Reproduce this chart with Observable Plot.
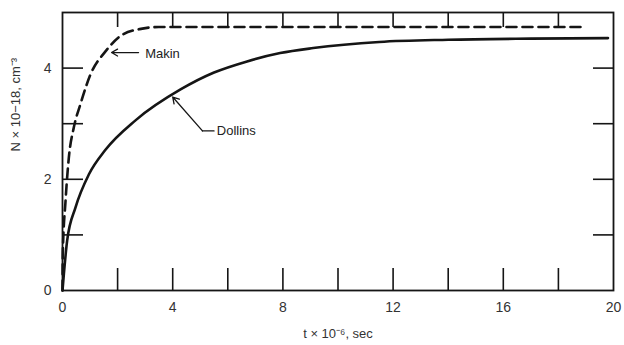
<!DOCTYPE html>
<html>
<head>
<meta charset="utf-8">
<script src="https://cdn.jsdelivr.net/npm/d3@7"></script>
<script src="https://cdn.jsdelivr.net/npm/@observablehq/plot@0.6"></script>
<style>
  html, body { margin: 0; padding: 0; background: #fff; }
  #chart svg { display: block; }
</style>
</head>
<body>
<div id="chart"></div>
<script>
// Carrier density N (×10^18 cm^-3) versus time t (×10^-6 s)
const dollinsT = [0, 0.05, 0.17, 0.47, 0.96, 1.56, 2.65, 4.3, 5.5, 6.7, 7.9, 9.1, 11.5, 14, 17, 19.8];
const dollinsN = [0, 0.30, 0.90, 1.49, 2.09, 2.53, 3.06, 3.62, 3.92, 4.12, 4.27, 4.36, 4.47, 4.51, 4.53, 4.54];

const makinT = [0, 0.01, 0.11, 0.23, 0.41, 0.65, 1.02, 1.56, 2.17, 2.9, 3.5, 5, 10, 15, 18.9];
const makinN = [0, 0.66, 1.61, 2.39, 2.93, 3.35, 3.89, 4.30, 4.60, 4.71, 4.74, 4.74, 4.74, 4.74, 4.74];

// Axis ticks and titles
const xLabelTicks = [0, 4, 8, 12, 16, 20];
const xMinorTicks = [2, 4, 6, 8, 10, 12, 14, 16, 18];
const yLabelTicks = [0, 2, 4];
const yMinorTicks = [1, 2, 3, 4];
const xTitle = "t × 10⁻⁶, sec";
const yTitle = "N × 10−18, cm⁻³";

// Curve labels with their leader arrows
const labelNames = ["Makin", "Dollins"];
const labelT = [3.0, 5.6];
const labelN = [4.25, 2.87];
const makinArrow = {t1: 2.76, n1: 4.28, t2: 1.78, n2: 4.28};
const dollinsLeaderT = [5.5, 5.08];
const dollinsLeaderN = [2.87, 2.87];
const dollinsArrow = {t1: 5.08, n1: 2.87, t2: 4.0, n2: 3.48};

const dollins = dollinsT.map((t, i) => ({t, n: dollinsN[i]}));
const makin = makinT.map((t, i) => ({t, n: makinN[i]}));
const labels = labelNames.map((name, i) => ({name, t: labelT[i], n: labelN[i]}));
const dollinsLeader = dollinsLeaderT.map((t, i) => ({t, n: dollinsLeaderN[i]}));

const ink = "#151515";
const font = "'Liberation Sans', Arial, sans-serif";

const chart = Plot.plot({
  width: 624,
  height: 345,
  marginLeft: 62,
  marginRight: 11,
  marginTop: 12,
  marginBottom: 55,
  style: {fontFamily: font, fontSize: "13px", color: ink, background: "#fff"},
  x: {domain: [0, 20]},
  y: {domain: [0, 5]},
  marks: [
    Plot.frame({stroke: ink, strokeWidth: 1.8}),
    // inward tick marks on all four sides
    Plot.axisX(xMinorTicks, {anchor: "bottom", tickSize: -22, tickFormat: () => "", strokeWidth: 1.6, stroke: ink, label: null}),
    Plot.axisX(xMinorTicks, {anchor: "top", tickSize: -14, tickFormat: () => "", strokeWidth: 1.6, stroke: ink, label: null}),
    Plot.axisY(yMinorTicks, {anchor: "left", tickSize: -21, tickFormat: () => "", strokeWidth: 1.6, stroke: ink, label: null}),
    Plot.axisY(yMinorTicks, {anchor: "right", tickSize: -21, tickFormat: () => "", strokeWidth: 1.6, stroke: ink, label: null}),
    // tick labels
    Plot.axisX(xLabelTicks, {anchor: "bottom", tickSize: 0, tickPadding: 12, fill: "#333", fontSize: 14, tickFormat: d3.format("d"), label: null}),
    Plot.axisY(yLabelTicks, {anchor: "left", tickSize: 0, tickPadding: 11, fill: "#333", fontSize: 14, tickFormat: d3.format("d"), label: null}),
    // axis titles
    Plot.text([xTitle], {frameAnchor: "bottom", text: d => d, dy: 47, fontSize: 13, fill: "#333"}),
    Plot.text([yTitle], {frameAnchor: "left", text: d => d, dx: -47, rotate: -90, fontSize: 13, fill: "#333"}),
    // curves
    Plot.line(makin, {x: "t", y: "n", curve: "monotone-x", stroke: ink, strokeWidth: 2.6, strokeDasharray: "10,6"}),
    Plot.line(dollins, {x: "t", y: "n", curve: "monotone-x", stroke: ink, strokeWidth: 2.6}),
    // annotations
    Plot.arrow([makinArrow], {x1: "t1", y1: "n1", x2: "t2", y2: "n2", stroke: ink, strokeWidth: 1.3, headLength: 8, bend: 0}),
    Plot.line(dollinsLeader, {x: "t", y: "n", stroke: ink, strokeWidth: 1.3}),
    Plot.arrow([dollinsArrow], {x1: "t1", y1: "n1", x2: "t2", y2: "n2", stroke: ink, strokeWidth: 1.3, headLength: 8, bend: 0}),
    Plot.text(labels, {x: "t", y: "n", text: "name", textAnchor: "start", fontSize: 13, fill: "#222"})
  ]
});

document.getElementById("chart").appendChild(chart);
</script>
</body>
</html>
